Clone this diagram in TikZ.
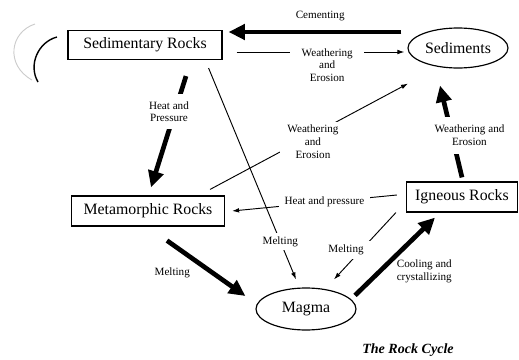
\documentclass[tikz,border=0pt]{standalone}
\usepackage{fontspec}
\setmainfont{Liberation Serif}
\usetikzlibrary{shapes.geometric,arrows.meta}
\newcommand{\unitpx}{0.03cm}

\tikzset{
  rockbox/.style={shape=rectangle,draw=black,line width=1pt,font=\fontsize{13.5}{16}\selectfont},
  rockoval/.style={shape=ellipse,draw=black,line width=1pt,inner sep=1pt,font=\fontsize{13.5}{16}\selectfont},
  bigarrow/.style={line width=4pt,-{Triangle[length=14pt,width=13pt]}},
  smallarrow/.style={line width=0.8pt,-{Latex[length=6pt,width=4pt]}},
  steplabel/.style={fill=white,align=center,inner sep=2pt,font=\fontsize{9.5}{11}\selectfont},
}

\begin{document}
\begin{tikzpicture}[x=\unitpx,y=-\unitpx]
        \useasboundingbox (0,0) rectangle (519,360);

        \node[rockbox,minimum width=154*\unitpx,minimum height=29*\unitpx] (sed) at (145,45) {Sedimentary Rocks};
        \node[rockbox,minimum width=153*\unitpx,minimum height=30*\unitpx] (met) at (148,211) {Metamorphic Rocks};
        \node[rockbox,minimum width=111*\unitpx,minimum height=30*\unitpx] (ign) at (462,197) {Igneous Rocks};
        \node[rockoval,minimum width=100*\unitpx,minimum height=40*\unitpx] (sedi) at (458,48) {Sediments};
        \node[rockoval,minimum width=100*\unitpx,minimum height=42*\unitpx] (mag) at (306,309) {Magma};
        \node[font=\bfseries\itshape\fontsize{12}{14}\selectfont] (title) at (408,350) {The Rock Cycle};

        %scan marks at the left edge
        \draw[gray!40,line width=0.8pt] (35,24) .. controls (10,32) and (5,65) .. (32,80);
        \draw[line width=1.2pt] (57,37) .. controls (38,42) and (28,65) .. (38,82);

        %edges between the rocks
        \path[bigarrow] ([shift={(-6,-16)}]sedi.west) edge node[steplabel,fill=none,pos=0.47,yshift=14pt] {Cementing} ([shift={(6,-13)}]sed.east);
        \path[smallarrow] ([shift={(14,7)}]sed.east) edge node[steplabel,pos=0.54,anchor=north,yshift=5.5pt,inner xsep=10pt] {Weathering\\and\\Erosion} ([shift={(-3,4)}]sedi.west);
        \path[bigarrow] ([shift={(41,16)}]sed.south) edge node[steplabel,pos=0.32,xshift=-5pt,inner ysep=6pt] {Heat and\\Pressure} ([shift={(3,-8)}]met.north);
        \path[smallarrow] ([shift={(-15,-6)}]met.north east) edge node[steplabel,pos=0.52,yshift=-6pt,inner xsep=6pt] {Weathering\\and\\Erosion} ([shift={(-50,15)}]sedi.south);
        \path[bigarrow] ([shift={(0,-4)}]ign.north) edge node[steplabel,pos=0.46,xshift=15pt,inner ysep=7pt] {Weathering and\\Erosion} ([shift={(-18,17)}]sedi.south);
        \path[smallarrow] ([shift={(-9,-2)}]ign.west) edge node[steplabel,pos=0.44,inner xsep=5pt] {Heat and pressure} ([shift={(7,0)}]met.east);
        \path[smallarrow] ([shift={(-14,8)}]sed.south east) edge node[steplabel,pos=0.82,inner ysep=3pt] {Melting} ([shift={(-10,-8)}]mag.north);
        \path[smallarrow] ([shift={(-10,0)}]ign.south west) edge node[steplabel,pos=0.56,xshift=-13pt,inner xsep=8pt,inner ysep=3pt] {Melting} ([shift={(28,-8)}]mag.north);
        \path[bigarrow] ([shift={(19,14)}]met.south) edge node[steplabel,fill=none,pos=0.5,xshift=-29pt,yshift=-4pt] {Melting} ([shift={(-10,-13)}]mag.west);
        \path[bigarrow] ([shift={(49,8)}]mag.north) edge node[steplabel,fill=none,pos=0.5,xshift=25pt,yshift=-13pt] {Cooling and\\crystallizing} ([shift={(-27,5)}]ign.south);
\end{tikzpicture}
\end{document}
